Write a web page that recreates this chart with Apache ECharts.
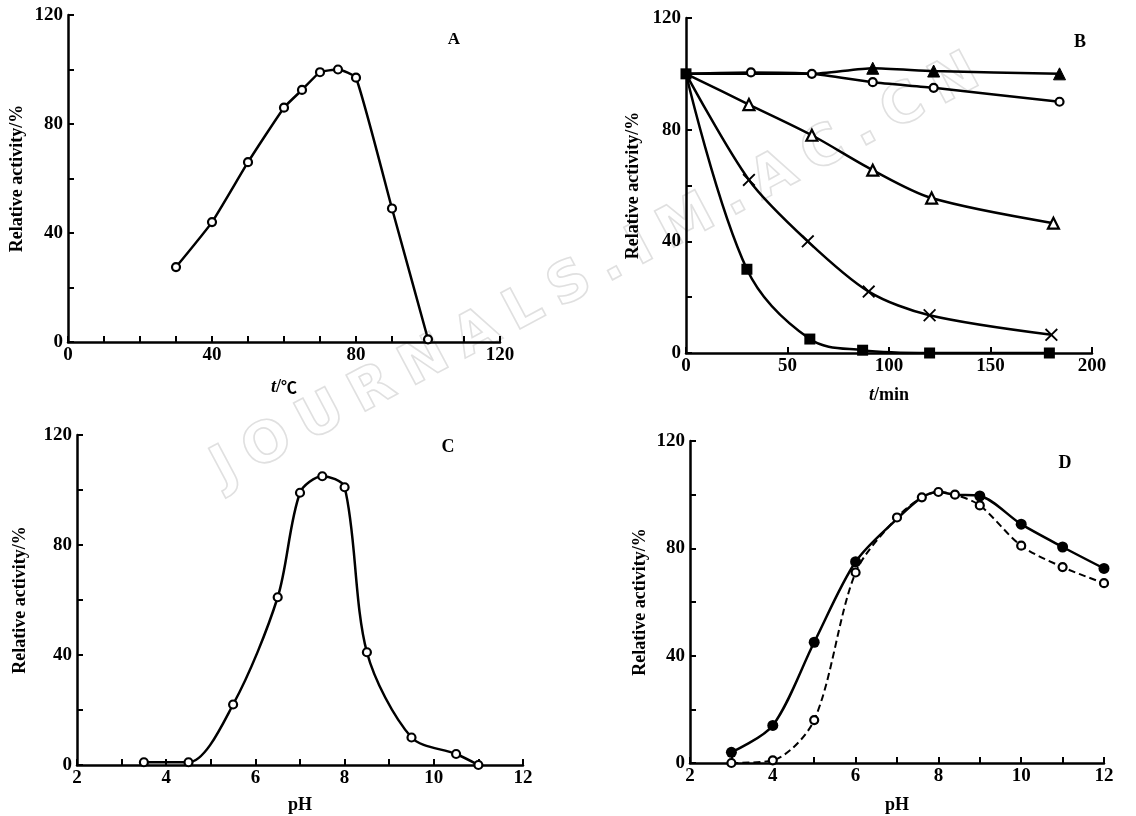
<!DOCTYPE html>
<html>
<head>
<meta charset="utf-8">
<script src="https://cdn.jsdelivr.net/npm/echarts@6/dist/echarts.min.js"></script>
<style>
  html, body { margin: 0; padding: 0; background: #fff; }
  #chart { width: 1136px; height: 816px; }
</style>
</head>
<body>
<div id="chart"></div>
<script>
// ---------- Data ----------
// Panel A: temperature optimum
const A_temp = [30, 40, 50, 60, 65, 70, 75, 80, 90, 100];
const A_activity = [27.5, 44, 66, 86, 92.5, 99, 100, 97, 49, 1];

// Panel B: thermal stability over time
const B_filledTri_t = [0, 31, 62, 92, 122, 184];
const B_filledTri_v = [100, 100, 100, 102, 101, 100];
const B_openCircle_t = [0, 32, 62, 92, 122, 184];
const B_openCircle_v = [100, 100.5, 100, 97, 95, 90];
const B_openTri_t = [0, 31, 62, 92, 121, 181];
const B_openTri_v = [100, 89, 78, 65.5, 55.5, 46.5];
const B_cross_t = [0, 31, 60, 90, 120, 180];
const B_cross_v = [100, 62, 40, 22, 13.5, 6.5];
const B_square_t = [0, 30, 61, 87, 120, 179];
const B_square_v = [100, 30, 5, 1, 0, 0];

// Panel C: pH optimum
const C_pH = [3.5, 4.5, 5.5, 6.5, 7, 7.5, 8, 8.5, 9.5, 10.5, 11];
const C_activity = [1, 1, 22, 61, 99, 105, 101, 41, 10, 4, 0];

// Panel D: pH stability
const D_filled_pH = [3, 4, 5, 6, 7, 7.6, 8, 8.4, 9, 10, 11, 12];
const D_filled_v = [4, 14, 45, 75, 91, 99, 101, 100, 99.5, 89, 80.5, 72.5];
const D_open_pH = [3, 4, 5, 6, 7, 7.6, 8, 8.4, 9, 10, 11, 12];
const D_open_v = [0, 1, 16, 71, 91.5, 99, 101, 100, 96, 81, 73, 67];
const D_sharedPH = [7, 7.6, 8, 8.4];

// Tick labels / texts
const yTitle = 'Relative activity/%';
const panelLetters = ['A', 'B', 'C', 'D'];
const watermarkText = 'JOURNALS.IM.AC.CN';

// ---------- Helpers ----------
const SERIF = '"Liberation Serif", "DejaVu Serif", serif';
const FS = 19;
const pairs = (xs, ys) => xs.map((x, i) => [x, ys[i]]);
const crossPath = 'path://M0,1 L1,0 L5,4 L9,0 L10,1 L6,5 L10,9 L9,10 L5,6 L1,10 L0,9 L4,5 Z';

function xAxis(gi, min, max, interval, minorSplit, name, nameGap) {
  return {
    type: 'value', gridIndex: gi, min, max, interval,
    axisLine: { show: true, onZero: false, lineStyle: { color: '#000', width: 2.5 } },
    axisTick: { show: true, inside: true, length: 6, lineStyle: { color: '#000', width: 2 } },
    minorTick: { show: minorSplit > 1, splitNumber: minorSplit, length: 6, lineStyle: { color: '#000', width: 2 } },
    splitLine: { show: false },
    axisLabel: { color: '#000', fontFamily: SERIF, fontWeight: 'bold', fontSize: FS, margin: 4 },
    name, nameLocation: 'middle', nameGap,
    nameTextStyle: {
      color: '#000', fontFamily: SERIF, fontWeight: 'bold', fontSize: 18,
      rich: {
        i: { fontStyle: 'italic', fontFamily: SERIF, fontWeight: 'bold', fontSize: 18, color: '#000' },
        c: { fontFamily: '"Noto Sans CJK SC"', fontWeight: 'bold', fontSize: 16, color: '#000' }
      }
    }
  };
}
function yAxis(gi, nameGap) {
  return {
    type: 'value', gridIndex: gi, min: 0, max: 120, interval: 40,
    axisLine: { show: true, onZero: false, lineStyle: { color: '#000', width: 2.5 } },
    axisTick: { show: true, inside: true, length: 6, lineStyle: { color: '#000', width: 2 } },
    minorTick: { show: true, splitNumber: 2, length: 6, lineStyle: { color: '#000', width: 2 } },
    splitLine: { show: false },
    axisLabel: { color: '#000', fontFamily: SERIF, fontWeight: 'bold', fontSize: FS, margin: 5 },
    name: yTitle, nameLocation: 'middle', nameGap, nameRotate: 90,
    nameTextStyle: { color: '#000', fontFamily: SERIF, fontWeight: 'bold', fontSize: 18 }
  };
}
function lineSeries(xi, data, opts) {
  return Object.assign({
    type: 'line', xAxisIndex: xi, yAxisIndex: xi, data,
    symbol: 'circle', symbolSize: 8,
    lineStyle: { color: '#000', width: 2.5 },
    itemStyle: { color: '#fff', borderColor: '#000', borderWidth: 2.2 },
    smooth: 0.3,
    animation: false, z: 3
  }, opts);
}

// ---------- Series ----------
const series = [];
// A
series.push(lineSeries(0, pairs(A_temp, A_activity), { smooth: 0.15 }));

// B
series.push(lineSeries(1, pairs(B_filledTri_t, B_filledTri_v).map((p, i) => i < 3 ? { value: p, symbol: 'none' } : p), {
  symbol: 'triangle', symbolSize: 12, itemStyle: { color: '#000', borderColor: '#000', borderWidth: 1 }, smooth: 0.2
}));
series.push(lineSeries(1, pairs(B_openCircle_t, B_openCircle_v).map((p, i) => i === 0 ? { value: p, symbol: 'none' } : p), { smooth: 0.2 }));
series.push(lineSeries(1, pairs(B_openTri_t, B_openTri_v).map((p, i) => i === 0 ? { value: p, symbol: 'none' } : p), {
  symbol: 'triangle', symbolSize: 11
}));
series.push(lineSeries(1, pairs(B_cross_t, B_cross_v).map((p, i) => i === 0 ? { value: p, symbol: 'none' } : p), {
  symbol: crossPath, symbolSize: 13, itemStyle: { color: '#000', borderWidth: 0 }
}));
series.push(lineSeries(1, pairs(B_square_t, B_square_v), {
  symbol: 'rect', symbolSize: 11, itemStyle: { color: '#000', borderWidth: 0 }, smooth: 0.35
}));

// C
series.push(lineSeries(2, pairs(C_pH, C_activity), { smooth: 0.3 }));

// D
series.push(lineSeries(3, pairs(D_filled_pH, D_filled_v).map(p => D_sharedPH.includes(p[0]) ? { value: p, symbol: 'none' } : p), {
  symbolSize: 11, itemStyle: { color: '#000', borderWidth: 0 }, smooth: 0.3
}));
series.push(lineSeries(3, pairs(D_open_pH, D_open_v), {
  lineStyle: { color: '#000', width: 2, type: [7, 4] }, smooth: 0.3, z: 4
}));

// ---------- Chart ----------
const wmChars = watermarkText.split('').join('\u2005');
const chart = echarts.init(document.getElementById('chart'), null, { renderer: 'canvas' });
chart.setOption({
  backgroundColor: '#fff',
  animation: false,
  grid: [
    { left: 68, top: 15, width: 432, height: 327 },
    { left: 686, top: 18, width: 406, height: 335 },
    { left: 77, top: 435, width: 446, height: 330 },
    { left: 690, top: 441, width: 414, height: 322 }
  ],
  xAxis: [
    xAxis(0, 0, 120, 40, 4, '{i|t}/{c|℃}', 36),
    xAxis(1, 0, 200, 50, 1, '{i|t}/min', 33),
    xAxis(2, 2, 12, 2, 2, 'pH', 31),
    xAxis(3, 2, 12, 2, 2, 'pH', 33)
  ],
  yAxis: [yAxis(0, 42), yAxis(1, 44), yAxis(2, 48), yAxis(3, 41)],
  series,
  graphic: [
    {
      type: 'text', x: 596, y: 272, rotation: 28 * Math.PI / 180, z: 0, silent: true,
      style: {
        text: wmChars, font: 'bold 56px "DejaVu Sans"', fill: 'rgba(255,255,255,0)',
        stroke: '#e0e0e0', lineWidth: 1.6, align: 'center', verticalAlign: 'middle'
      }
    },
    { type: 'text', x: 454, y: 40, z: 10, style: { text: panelLetters[0], font: 'bold 17px ' + SERIF, fill: '#000', align: 'center', verticalAlign: 'middle' } },
    { type: 'text', x: 1080, y: 42, z: 10, style: { text: panelLetters[1], font: 'bold 18px ' + SERIF, fill: '#000', align: 'center', verticalAlign: 'middle' } },
    { type: 'text', x: 448, y: 447, z: 10, style: { text: panelLetters[2], font: 'bold 18px ' + SERIF, fill: '#000', align: 'center', verticalAlign: 'middle' } },
    { type: 'text', x: 1065, y: 463, z: 10, style: { text: panelLetters[3], font: 'bold 18px ' + SERIF, fill: '#000', align: 'center', verticalAlign: 'middle' } }
  ]
});
</script>
</body>
</html>
